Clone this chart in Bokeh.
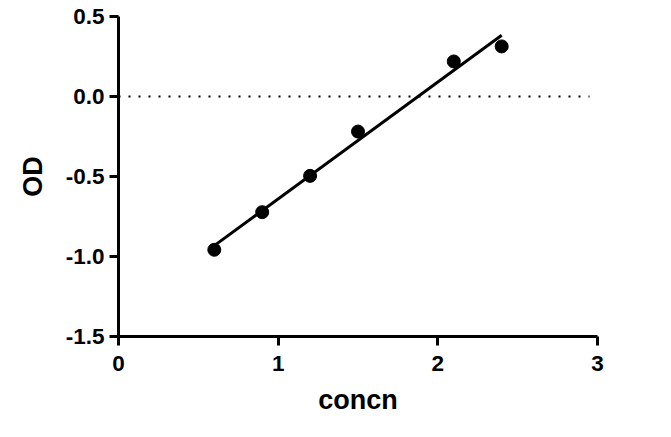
from bokeh.plotting import figure
from bokeh.models import FixedTicker, NumeralTickFormatter, Range1d
from bokeh.embed import file_html
from bokeh.resources import INLINE

# data
concn = [0.6, 0.9, 1.2, 1.5, 2.1, 2.4]
od = [-0.958, -0.723, -0.496, -0.219, 0.219, 0.313]
fit_x = [0.6, 2.4]
fit_y = [-0.932, 0.383]
zero_x = [0.0, 2.95]
zero_y = [0.0, 0.0]
x_ticks = [0, 1, 2, 3]
y_ticks = [-1.5, -1.0, -0.5, 0.0, 0.5]

FONT = "Liberation Sans"

p = figure(frame_width=479, frame_height=320,
           min_border_left=118, min_border_right=58,
           min_border_top=16, min_border_bottom=85,
           x_range=Range1d(0, 3), y_range=Range1d(-1.5, 0.5),
           output_backend="svg", toolbar_location=None,
           background_fill_color="white", border_fill_color="white")
p.outline_line_color = None
p.xgrid.visible = False
p.ygrid.visible = False

p.line(zero_x, zero_y, line_color="black", line_width=2, line_dash="2 8")
p.line(fit_x, fit_y, line_color="black", line_width=3)
p.scatter(concn, od, size=13, fill_color="black", line_color="black")

for ax in (p.xaxis[0], p.yaxis[0]):
    ax.axis_line_width = 3
    ax.axis_line_color = "black"
    ax.major_tick_line_width = 3
    ax.major_tick_line_color = "black"
    ax.major_tick_out = 9
    ax.major_tick_in = 0
    ax.minor_tick_line_color = None
    ax.major_label_text_font = FONT
    ax.major_label_text_font_style = "bold"
    ax.major_label_text_font_size = "22.5px"
    ax.major_label_text_color = "black"
    ax.axis_label_text_font = FONT
    ax.axis_label_text_font_style = "bold"
    ax.axis_label_text_font_size = "27px"
    ax.axis_label_text_color = "black"

p.xaxis.ticker = FixedTicker(ticks=x_ticks)
p.yaxis.ticker = FixedTicker(ticks=y_ticks)
p.yaxis.formatter = NumeralTickFormatter(format="0.0")
p.xaxis.formatter = NumeralTickFormatter(format="0")
p.xaxis.axis_label = "concn"
p.yaxis.axis_label = "OD"
p.xaxis.major_label_standoff = 10
p.yaxis.major_label_standoff = 5
p.xaxis.axis_label_standoff = 11
p.yaxis.axis_label_standoff = 15

open("out.html", "w").write(file_html(p, INLINE))
